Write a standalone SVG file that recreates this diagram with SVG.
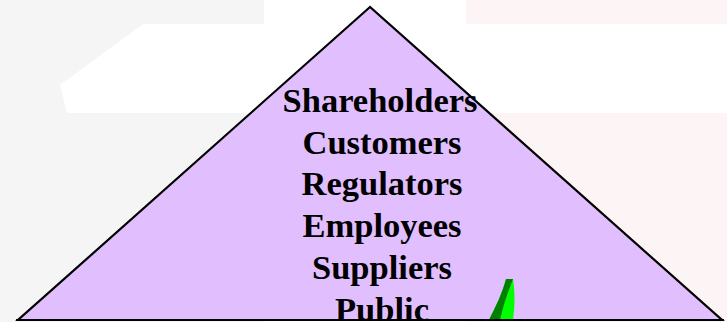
<svg xmlns="http://www.w3.org/2000/svg" width="727" height="322" viewBox="0 0 727 322">
  <style>
    .label { font-family: "Liberation Serif", "Times New Roman", serif; font-weight: bold; font-size: 34.5px; fill: #000; text-anchor: middle; }
  </style>
  <!-- backdrop panels -->
  <g id="backdrop">
    <rect x="0" y="0" width="727" height="322" fill="#ffffff"/>
    <polygon points="0,0 264,0 264,24 143,24 60,85 67,113 264,113 264,322 0,322" fill="#f5f5f5"/>
    <rect x="466" y="0" width="261" height="24" fill="#fdf5f5"/>
    <rect x="466" y="113" width="261" height="209" fill="#fdf5f5"/>
  </g>
  <!-- stakeholder pyramid -->
  <g id="pyramid">
    <polygon points="370,7 18,320 722,320" fill="#e1bfff" stroke="#000" stroke-width="2.2" stroke-linejoin="miter"/>
    <g id="labels">
      <text class="label" x="380" y="112">Shareholders</text>
      <text class="label" x="382" y="154">Customers</text>
      <text class="label" x="382" y="195">Regulators</text>
      <text class="label" x="382" y="237">Employees</text>
      <text class="label" x="382" y="279">Suppliers</text>
      <text class="label" x="382" y="321">Public</text>
    </g>
  </g>
  <!-- green leaf -->
  <g id="leaf">
    <path d="M506,279 L513,279 C515,292 515,306 513,320 L489,320 C496,306 502,294 506,279 Z" fill="#00ff00"/>
    <path d="M506,279 L513,279 C508,292 503,306 500,320 L489,320 C496,306 502,294 506,279 Z" fill="#008000"/>
  </g>
  <line x1="16" y1="320" x2="724" y2="320" stroke="#000" stroke-width="2.2"/>
</svg>
